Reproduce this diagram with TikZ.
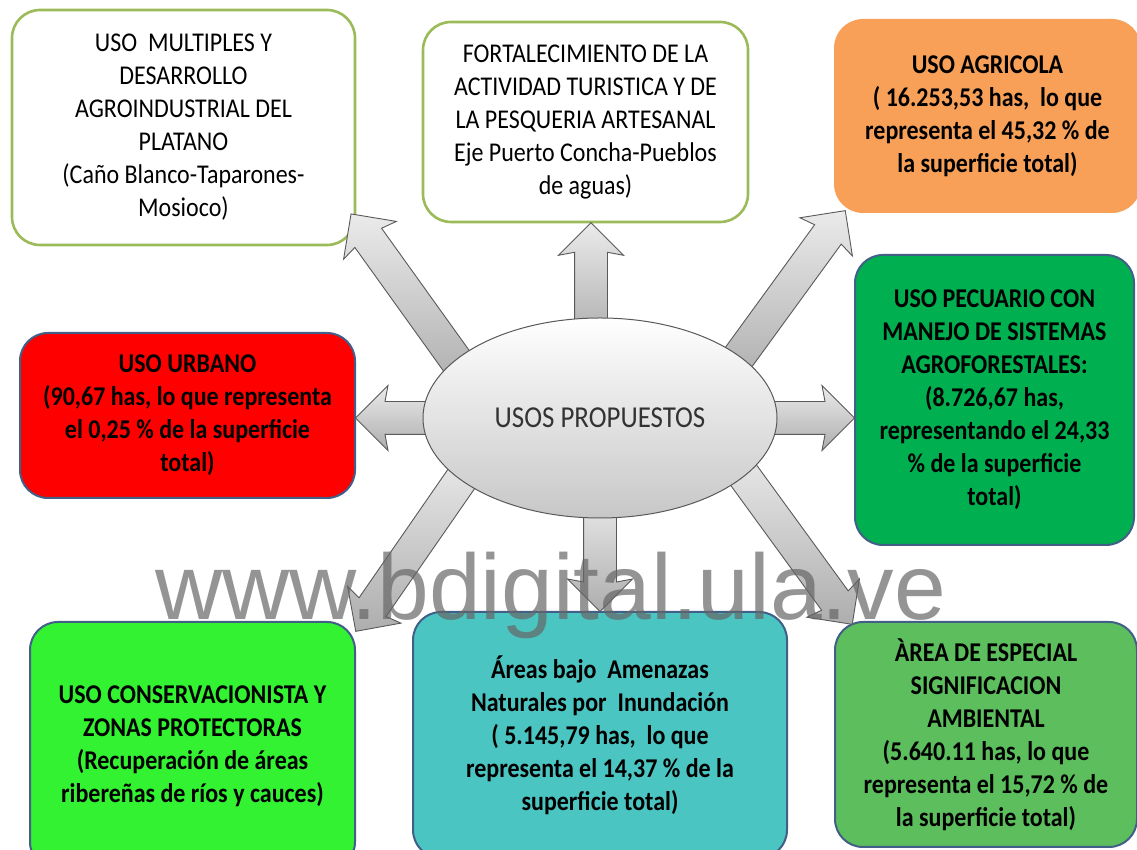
\documentclass[tikz,border=0pt]{standalone}
\usepackage{fontspec}
\setmainfont{Carlito}[FakeStretch=0.885]
\newfontfamily\wmfont{Liberation Sans}
\usepackage{tikz}
\usetikzlibrary{shapes.geometric,shapes.arrows,calc}

\definecolor{olivo}{RGB}{155,187,89}
\definecolor{bordeazul}{RGB}{65,95,135}
\definecolor{naranja}{RGB}{248,160,88}
\definecolor{rojo}{RGB}{255,0,0}
\definecolor{verdepec}{RGB}{0,176,80}
\definecolor{verdecons}{RGB}{50,242,50}
\definecolor{turquesa}{RGB}{75,197,193}
\definecolor{verdeamb}{RGB}{92,190,92}

\pgfdeclarelayer{front}
\pgfsetlayers{main,front}

% block arrow from the ellipse (#1) to a box (#2)
\newcommand{\usoarrow}[2]{%
  \path let \p1=($(#1)!-24pt!(#2)$), \p2=(#2),
    \n1={atan2(\y2-\y1,\x2-\x1)}, \n2={veclen(\x2-\x1,\y2-\y1)} in
    node[flecha, anchor=tail, rotate=\n1, minimum height=\n2] at (\p1) {};}

\begin{document}
\begin{tikzpicture}[x=1pt, y=1pt,
    box/.style={rounded corners=28pt, align=center, inner sep=0pt, line width=2pt,
                font=\bfseries\fontsize{27.1}{33}\selectfont},
    plain/.style={box, fill=white, draw=olivo, line width=2.6pt,
                  font=\mdseries\fontsize{27.1}{33}\selectfont},
    usos/.style={ellipse, draw=black!65, line width=1pt, top color=white,
                 bottom color=black!22, inner sep=0pt, text=black!80,
                 font=\fontsize{30.4}{36}\selectfont},
    flecha/.style={single arrow, draw=black!65, line width=0.9pt,
                   top color=black!8, bottom color=black!32,
                   inner xsep=0pt, inner ysep=16pt,
                   single arrow head extend=16pt, single arrow head indent=3pt},
  ]
  \useasboundingbox (0,0) rectangle (1137,850);

  % boxes
  \node[plain, minimum width=343pt, minimum height=235pt] (multi) at (183.5,722.5)
       {USO~ MULTIPLES Y\\ DESARROLLO\\ AGROINDUSTRIAL DEL\\ PLATANO\\
        (Caño Blanco-Taparones-\\ Mosioco)};
  \node[plain, minimum width=325pt, minimum height=200pt] (fort) at (585.5,728)
       {FORTALECIMIENTO DE LA\\ ACTIVIDAD TURISTICA Y DE\\ LA PESQUERIA ARTESANAL\\
        Eje Puerto Concha-Pueblos\\ de aguas)};
  \node[box, fill=naranja, draw=naranja, minimum width=305pt, minimum height=192pt]
       (agri) at (987.5,734)
       {USO AGRICOLA\\ ( 16.253,53 has,~ lo que\\ representa el 45,32 \% de\\
        la superficie total)};
  \node[box, fill=rojo, draw=bordeazul, minimum width=335pt, minimum height=165pt]
       (urb) at (187.5,434.5)
       {USO URBANO\\ (90,67 has, lo que representa\\ el 0,25 \% de la superficie\\ total)};
  \node[box, fill=verdepec, draw=bordeazul, minimum width=279pt, minimum height=290pt]
       (pec) at (994.5,450)
       {USO PECUARIO CON\\ MANEJO DE SISTEMAS\\ AGROFORESTALES:\\ (8.726,67 has,\\
        representando el 24,33\\ \% de la superficie\\ total)};
  \node[box, fill=verdecons, draw=bordeazul, minimum width=325pt, minimum height=248pt]
       (cons) at (192.5,104)
       {USO CONSERVACIONISTA Y\\ ZONAS PROTECTORAS\\ (Recuperación de áreas\\
        ribereñas de ríos y cauces)};
  \node[box, fill=turquesa, draw=bordeazul, minimum width=374pt, minimum height=246pt]
       (amen) at (600,115)
       {Áreas bajo~ Amenazas\\ Naturales por~ Inundación\\ ( 5.145,79 has,~ lo que\\
        representa el 14,37 \% de la\\ superficie total)};
  \node[box, fill=verdeamb, draw=bordeazul, minimum width=302pt, minimum height=225pt]
       (amb) at (986,115.5)
       {ÀREA DE ESPECIAL\\ SIGNIFICACION\\ AMBIENTAL\\ (5.640.11 has, lo que\\
        representa el 15,72 \% de\\ la superficie total)};

  % centre
  \begin{pgfonlayer}{front}
    \node[usos, minimum width=354pt, minimum height=200pt] (usos) at (600,432)
         {USOS PROPUESTOS};
  \end{pgfonlayer}

  % arrows
  \usoarrow{$(usos.north)+(-9,0)$}{$(fort.south)+(5.5,0)$}
  \usoarrow{usos.south}{amen.north}
  \usoarrow{usos.west}{urb.east |- usos.center}
  \usoarrow{usos.east}{pec.west |- usos.center}
  \usoarrow{usos.158}{$(multi.south east)+(-5,32)$}
  \usoarrow{usos.24}{$(agri.south west)+(11,2)$}
  \usoarrow{usos.204}{$(cons.north east)+(0,-10)$}
  \usoarrow{usos.338}{$(amb.north west)+(18,-3)$}

  \begin{pgfonlayer}{front}
    \node[anchor=base west, inner sep=0pt, text=black!60, text opacity=0.7,
          font=\wmfont\fontsize{93}{93}\selectfont] (marca) at (155,230)
         {www.bdigital.ula.ve};
  \end{pgfonlayer}
\end{tikzpicture}
\end{document}
